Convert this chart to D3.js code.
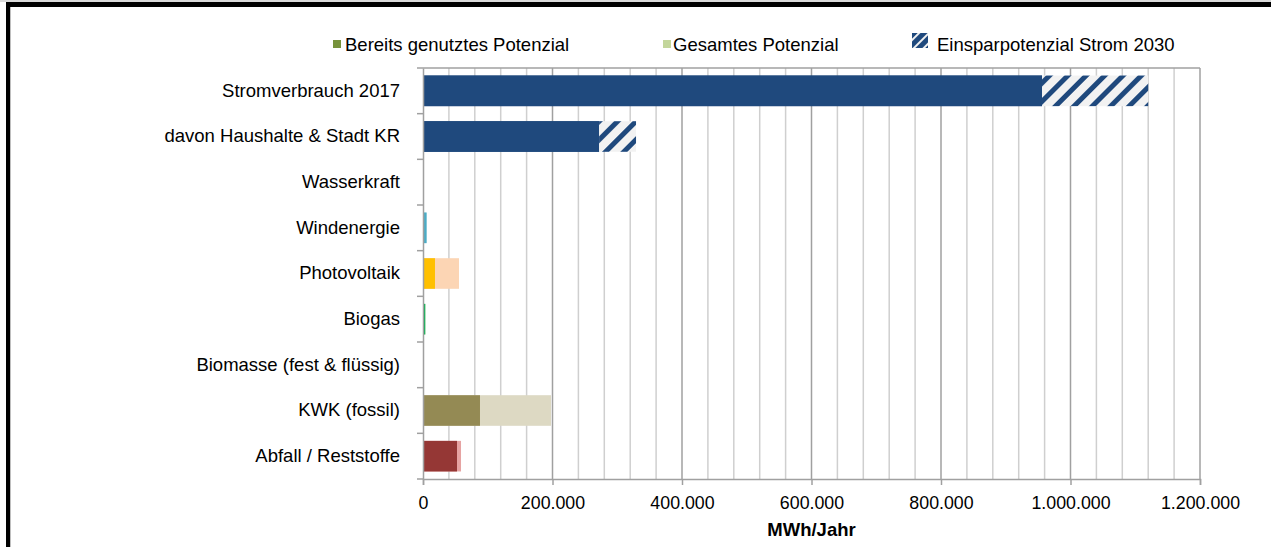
<!DOCTYPE html>
<html><head><meta charset="utf-8">
<script src="https://cdn.jsdelivr.net/npm/d3@7"></script>
<style>body{margin:0;background:#fff}svg{display:block;font-family:"Liberation Sans",Arial,sans-serif}</style>
</head><body><svg id="c" width="1271" height="547"></svg>
<script>
const categories = ["Stromverbrauch 2017","davon Haushalte & Stadt KR","Wasserkraft","Windenergie","Photovoltaik","Biogas","Biomasse (fest & flüssig)","KWK (fossil)","Abfall / Reststoffe"];
const usedValues = [956000, 272000, 0, 5500, 18500, 3500, 0, 88000, 52500];
const totalValues = [956000, 272000, 0, 5500, 55600, 3500, 0, 197700, 58700];
const savingValues = [164000, 57000, 0, 0, 0, 0, 0, 0, 0];
const usedColors = ["#1f497d","#1f497d","#31859c","#4bacc6","#ffc000","#00b050","#77933c","#948a54","#953735"];
const totalColors = ["#1f497d","#1f497d","#b7dee8","#b7dee8","#fcd5b4","#c3d69b","#d7e4bd","#ddd9c3","#e6a3a2"];
const xTicks = [0,200000,400000,600000,800000,1000000,1200000];
const legendLabels = ["Bereits genutztes Potenzial","Gesamtes Potenzial","Einsparpotenzial Strom 2030"];

const svg = d3.select("#c");
const loc = d3.formatLocale({decimal:",",thousands:".",grouping:[3],currency:["","€"]});
const fmt = loc.format(",d");
const FF = "Liberation Sans, Arial, sans-serif";

const m = {l:423, r:1200, t:68, b:479};
const x = d3.scaleLinear().domain([0,1200000]).range([m.l,m.r]);
const y = d3.scaleBand().domain(categories).range([m.t,m.b]).paddingInner(0.33).paddingOuter(0.165);

// hatch pattern
const defs = svg.append("defs");
const pat = defs.append("pattern").attr("id","hatch").attr("patternUnits","userSpaceOnUse")
  .attr("width",13).attr("height",13).attr("patternTransform","rotate(45)");
pat.append("rect").attr("width",13).attr("height",13).attr("fill","#f2f2f2");
pat.append("rect").attr("width",5).attr("height",13).attr("fill","#1f497d");
const pat2 = defs.append("pattern").attr("id","hatchL").attr("patternUnits","userSpaceOnUse")
  .attr("width",7).attr("height",7).attr("patternTransform","translate(912,33) rotate(45)");
pat2.append("rect").attr("width",7).attr("height",7).attr("fill","#1f497d");
pat2.append("rect").attr("x",4).attr("width",2).attr("height",7).attr("fill","#f2f2f2");

// frame
svg.append("rect").attr("x",0).attr("y",0).attr("width",1271).attr("height",2).attr("fill","#d9d9d9");
svg.append("rect").attr("x",6).attr("y",2).attr("width",1265).attr("height",5).attr("fill","#000");
svg.append("rect").attr("x",6).attr("y",2).attr("width",4).attr("height",545).attr("fill","#000");
svg.append("rect").attr("x",10).attr("y",7).attr("width",1).attr("height",540).attr("fill","#bfbfbf");

// grid
const minor = d3.range(40000,1200001,40000).filter(v=>v%200000!==0);
svg.append("g").selectAll("line").data(minor).join("line")
  .attr("x1",d=>x(d)).attr("x2",d=>x(d)).attr("y1",m.t).attr("y2",m.b)
  .attr("stroke","#cfcfcf").attr("stroke-width",1.5);
svg.append("g").selectAll("line").data(xTicks.slice(1)).join("line")
  .attr("x1",d=>x(d)).attr("x2",d=>x(d)).attr("y1",m.t).attr("y2",m.b)
  .attr("stroke","#a0a0a0").attr("stroke-width",1.5);
svg.append("line").attr("x1",m.l).attr("x2",m.r).attr("y1",m.t).attr("y2",m.t).attr("stroke","#a0a0a0").attr("stroke-width",1.5);

// bars
const bars = svg.append("g");
bars.selectAll(".tot").data(categories).join("rect").attr("class","tot")
  .attr("x",x(0)).attr("y",d=>y(d)).attr("height",y.bandwidth())
  .attr("width",(d,i)=>x(totalValues[i])-x(0)).attr("fill",(d,i)=>totalColors[i]);
bars.selectAll(".used").data(categories).join("rect").attr("class","used")
  .attr("x",x(0)).attr("y",d=>y(d)).attr("height",y.bandwidth())
  .attr("width",(d,i)=>x(usedValues[i])-x(0)).attr("fill",(d,i)=>usedColors[i]);
bars.selectAll(".save").data(categories).join("rect").attr("class","save")
  .attr("x",(d,i)=>x(usedValues[i])).attr("y",d=>y(d)).attr("height",y.bandwidth())
  .attr("width",(d,i)=>x(usedValues[i]+savingValues[i])-x(usedValues[i])).attr("fill","url(#hatch)");

// x axis
const xa = svg.append("g").attr("transform",`translate(0,${m.b})`)
  .call(d3.axisBottom(x).tickValues(xTicks).tickFormat(fmt).tickSize(6).tickPadding(11));
xa.select(".domain").attr("stroke","#a0a0a0").attr("stroke-width",1.5);
xa.selectAll(".tick line").attr("stroke","#a0a0a0").attr("stroke-width",1.5);
xa.selectAll("text").attr("font-size",17.8).attr("fill","#000").attr("font-family",FF);

// y axis
const ya = svg.append("g").attr("transform",`translate(${m.l},0)`)
  .call(d3.axisLeft(y).tickSize(0).tickPadding(23));
ya.select(".domain").attr("stroke","#a0a0a0").attr("stroke-width",1.5);
ya.selectAll("text").attr("font-size",18.5).attr("fill","#000").attr("font-family",FF);
const bounds = d3.range(0,categories.length+1).map(i=>m.t+i*(m.b-m.t)/categories.length);
svg.append("g").selectAll("line").data(bounds).join("line")
  .attr("x1",m.l-6).attr("x2",m.l).attr("y1",d=>d).attr("y2",d=>d)
  .attr("stroke","#a0a0a0").attr("stroke-width",1.5);

// axis title
svg.append("text").attr("x",(m.l+m.r)/2+0).attr("y",536).attr("text-anchor","middle")
  .attr("font-size",18.5).attr("font-weight","bold").text("MWh/Jahr");

// legend
const lg = svg.append("g").attr("font-size",18.5);
const lpos = [[333,345],[663,673],[912,937]];
lg.append("rect").attr("x",lpos[0][0]).attr("y",40).attr("width",8).attr("height",8).attr("fill","#77933c");
lg.append("rect").attr("x",lpos[1][0]).attr("y",40).attr("width",8).attr("height",8).attr("fill","#c3d69b");
lg.append("rect").attr("x",lpos[2][0]).attr("y",33).attr("width",16).attr("height",15).attr("fill","url(#hatchL)");
legendLabels.forEach((t,i)=>{
  lg.append("text").attr("x",lpos[i][1]).attr("y",51).text(t);
});
</script></body></html>
